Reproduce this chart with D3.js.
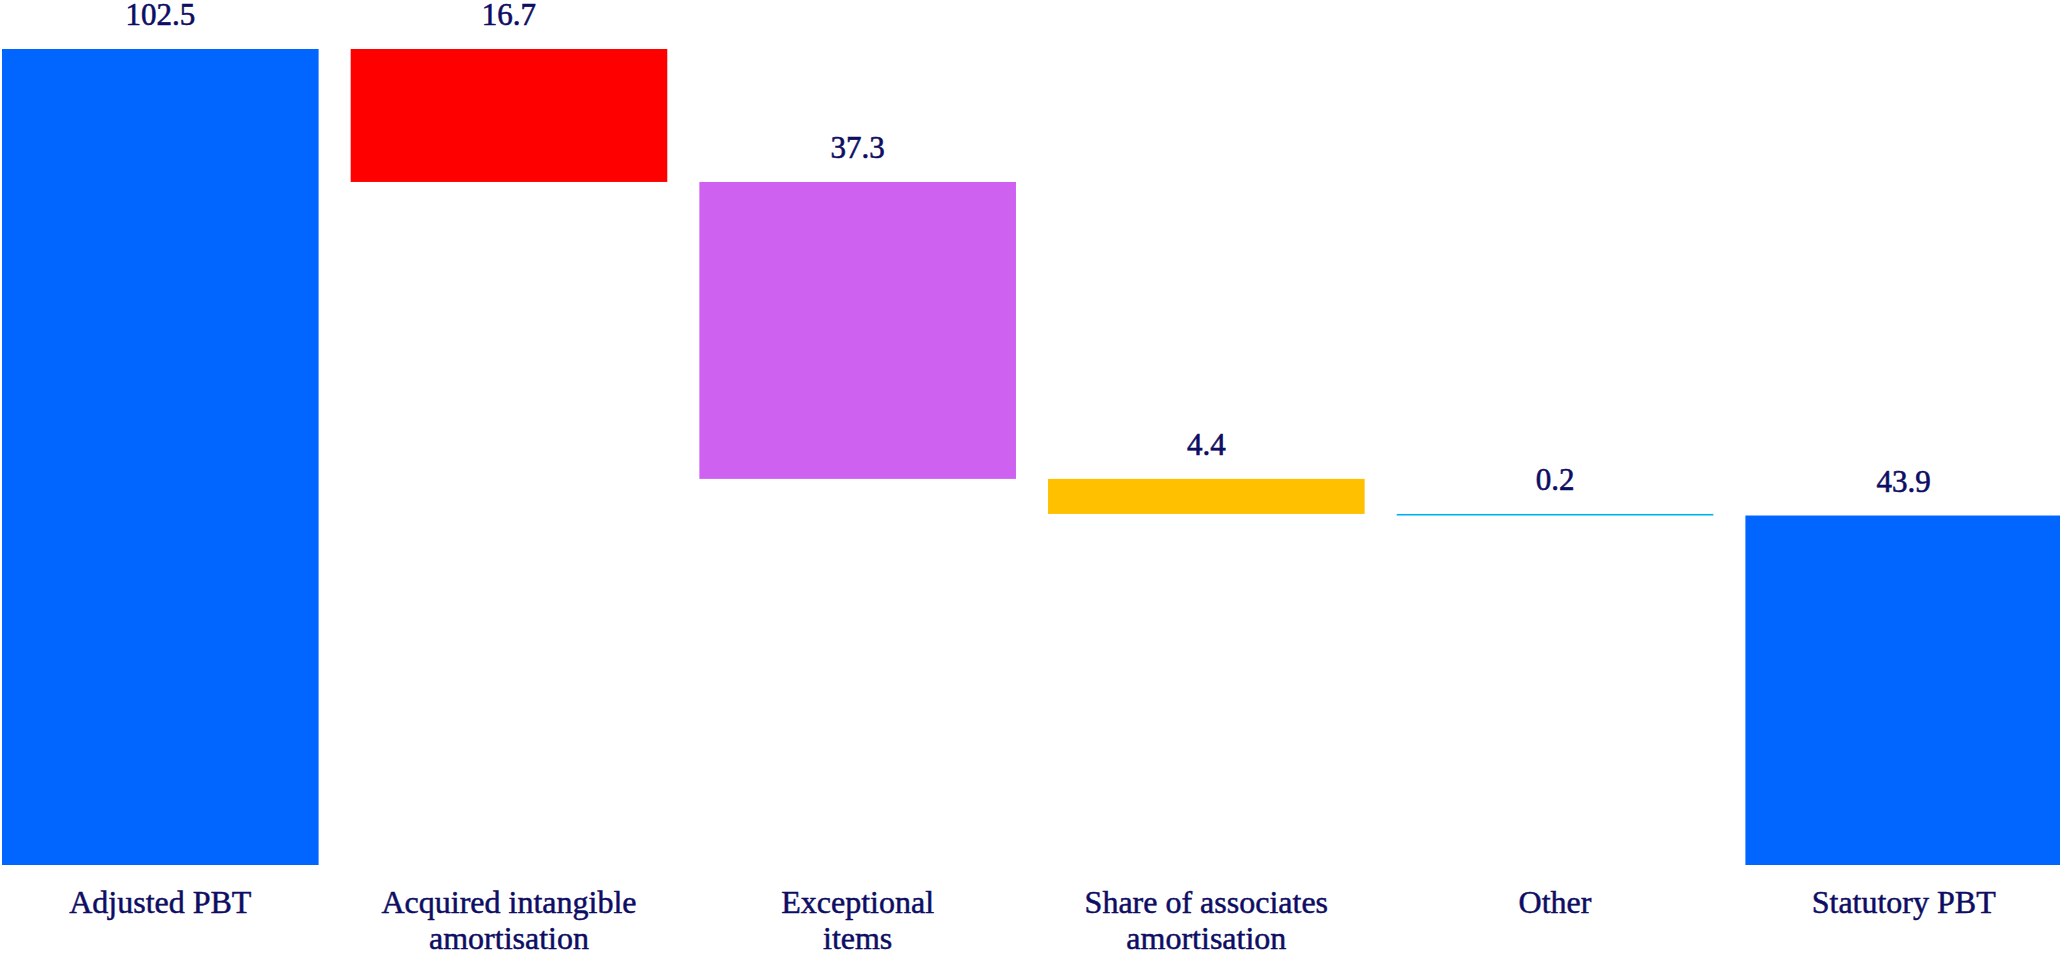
<!DOCTYPE html>
<html>
<head>
<meta charset="utf-8">
<script src="https://cdn.jsdelivr.net/npm/d3@7"></script>
<style>
  html, body { margin: 0; padding: 0; background: #ffffff; }
  svg { display: block; }
  text { font-family: "Liberation Serif", "Times New Roman", serif; }
</style>
</head>
<body>
<svg id="chart" width="2060" height="954"></svg>
<script>
// ---- data ----
const categories = [
  "Adjusted PBT",
  "Acquired intangible amortisation",
  "Exceptional items",
  "Share of associates amortisation",
  "Other",
  "Statutory PBT"
];
const categoryLines = [
  ["Adjusted PBT"],
  ["Acquired intangible", "amortisation"],
  ["Exceptional", "items"],
  ["Share of associates", "amortisation"],
  ["Other"],
  ["Statutory PBT"]
];
const changes = [102.5, -16.7, -37.3, -4.4, -0.2, 43.9];
const isTotal = [true, false, false, false, false, true];
const valueLabels = ["102.5", "16.7", "37.3", "4.4", "0.2", "43.9"];
const barColors = ["#0066ff", "#ff0000", "#cf61f0", "#ffc000", "#00b0f0", "#0066ff"];

// ---- waterfall layout ----
let running = 0;
const bars = categories.map((c, i) => {
  let y0, y1;
  if (isTotal[i]) {
    y0 = 0; y1 = Math.abs(changes[i]);
    running = y1;
  } else {
    y0 = running; y1 = running + changes[i];
    running = y1;
  }
  return { cat: c, lines: categoryLines[i], lo: Math.min(y0, y1), hi: Math.max(y0, y1), label: valueLabels[i], color: barColors[i] };
});

const svg = d3.select("#chart");
const x = d3.scaleBand().domain(categories).range([2, 2062]).paddingInner(0.092).paddingOuter(0);
const y = d3.scaleLinear().domain([0, 102.5]).range([865, 49]);

const textColor = "#0d0d63";

svg.selectAll("rect.bar").data(bars).enter().append("rect")
  .attr("class", "bar")
  .attr("x", d => x(d.cat))
  .attr("width", x.bandwidth())
  .attr("y", d => y(d.hi))
  .attr("height", d => Math.max(1.6, y(d.lo) - y(d.hi)))
  .attr("fill", d => d.color);

svg.selectAll("text.val").data(bars).enter().append("text")
  .attr("class", "val")
  .attr("x", d => x(d.cat) + x.bandwidth() / 2)
  .attr("y", d => y(d.hi) - 24)
  .attr("text-anchor", "middle")
  .attr("font-size", 31)
  .attr("fill", textColor)
  .attr("stroke", textColor)
  .attr("stroke-width", 0.6)
  .text(d => d.label);

const catG = svg.selectAll("text.cat").data(bars).enter().append("text")
  .attr("class", "cat")
  .attr("x", d => x(d.cat) + x.bandwidth() / 2)
  .attr("y", 913)
  .attr("text-anchor", "middle")
  .attr("font-size", 32)
  .attr("fill", textColor)
  .attr("stroke", textColor)
  .attr("stroke-width", 0.5);
catG.each(function(d) {
  const t = d3.select(this);
  d.lines.forEach((ln, j) => {
    t.append("tspan")
      .attr("x", x(d.cat) + x.bandwidth() / 2)
      .attr("dy", j === 0 ? 0 : 36)
      .text(ln);
  });
});
</script>
</body>
</html>
